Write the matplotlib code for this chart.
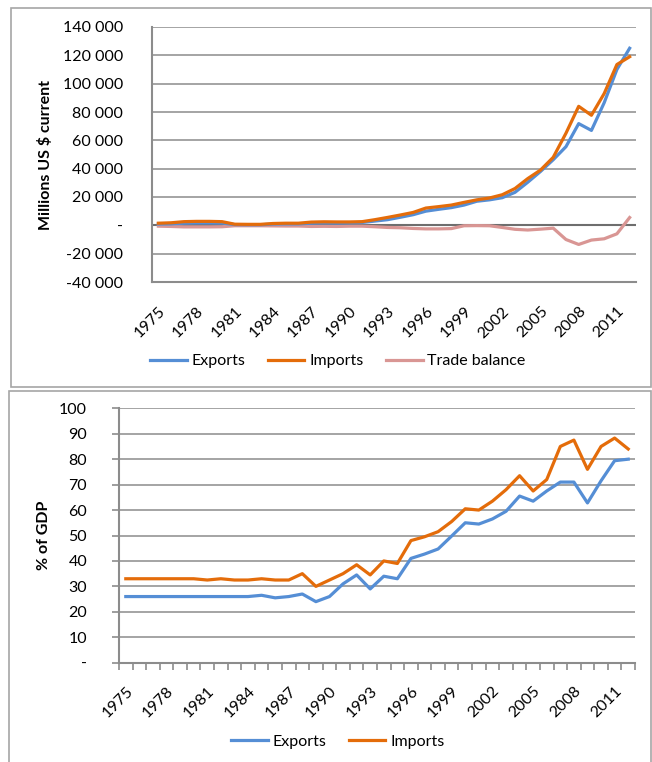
import numpy as np
import matplotlib
matplotlib.use("Agg")
import matplotlib.pyplot as plt
from matplotlib.patches import Rectangle
from matplotlib.ticker import FuncFormatter, FixedLocator

plt.rcParams['font.family'] = ['Lato', 'DejaVu Sans']

years = list(range(1975, 2013))
tick_years = list(range(1975, 2012, 3))

# Millions US $ current
exports_usd = [900, 1000, 1500, 1700, 1700, 1600, 500, 400, 400, 900,
               1000, 1000, 1500, 1800, 1600, 1800, 2000, 3000, 4000, 5700,
               7500, 10000, 11300, 12500, 14300, 17000, 18000, 19500, 23300, 30400,
               38000, 46300, 55500, 71800, 67000, 86500, 110000, 125000]
imports_usd = [1500, 1800, 2600, 2800, 2800, 2600, 800, 700, 700, 1300,
               1500, 1500, 2300, 2500, 2400, 2400, 2600, 4000, 5600, 7300,
               9100, 12200, 13200, 14300, 16200, 18000, 19300, 21600, 26000, 33000,
               39000, 48000, 65000, 84000, 77700, 93000, 113500, 119000]
balance_usd = [-600, -800, -1100, -1100, -1100, -1000, -300, -300, -300, -400,
               -500, -500, -800, -700, -800, -600, -600, -1000, -1500, -1700,
               -2200, -2500, -2500, -2300, -300, -200, -300, -1500, -2800, -3300,
               -2700, -2000, -10000, -13500, -10400, -9500, -6000, 5500]

# % of GDP
exports_pct = [26, 26, 26, 26, 26, 26, 26, 26, 26, 26,
               26.5, 25.5, 26, 27, 24, 26, 31, 34.5, 29, 34,
               33, 41, 42.7, 44.7, 49.8, 55, 54.5, 56.5, 59.5, 65.5,
               63.5, 67.5, 71, 71, 62.8, 71.5, 79.4, 80]
imports_pct = [33, 33, 33, 33, 33, 33, 32.5, 33, 32.5, 32.5,
               33, 32.5, 32.5, 35, 30, 32.5, 35, 38.5, 34.5, 40,
               39, 48, 49.5, 51.5, 55.5, 60.5, 60, 63.5, 68, 73.5,
               67.5, 72, 85, 87.5, 76, 85, 88.3, 84]

BLUE = '#558ED5'
ORANGE = '#E46C0A'
PINK = '#D99694'
GRID = '#8C8C8C'
FS = 11.5
W, H = 652, 762

fig = plt.figure(figsize=(W / 100, H / 100), dpi=100)

# outer chart frames
for (x0, y0, x1, y1) in [(11, 8, 651, 387), (9, 391, 651, 770)]:
    fig.add_artist(Rectangle((x0 / W, 1 - y1 / H), (x1 - x0) / W, (y1 - y0) / H,
                             transform=fig.transFigure, fill=False,
                             edgecolor='#A6A6A6', linewidth=1.2))

x = np.arange(len(years))
pos_ticks = [years.index(y) for y in tick_years]


def thousands(v, _):
    if v == 0:
        return '-'
    return f"{v:,.0f}".replace(',', ' ')


def plain(v, _):
    return '-' if v == 0 else f"{v:.0f}"


def style_axes(ax, xpad):
    for s in ['top', 'right']:
        ax.spines[s].set_visible(False)
    ax.spines['left'].set_color(GRID)
    ax.spines['left'].set_linewidth(1.5)
    ax.spines['bottom'].set_color(GRID)
    ax.spines['bottom'].set_linewidth(1.5)
    ax.grid(axis='y', color=GRID, linewidth=1.1)
    ax.set_axisbelow(True)
    ax.set_xlim(-0.5, len(years) - 0.5)
    ax.set_xticks(pos_ticks)
    ax.set_xticklabels([str(y) for y in tick_years], rotation=45, ha='right',
                       rotation_mode='anchor', va='top', fontsize=FS)
    ax.tick_params(axis='x', length=0, pad=xpad)


# top chart
ax1 = fig.add_axes([152 / W, 1 - 282 / H, 484 / W, 255 / H])
ax1.plot(x, balance_usd, color=PINK, linewidth=2.3, label='Trade balance', zorder=2)
ax1.plot(x, exports_usd, color=BLUE, linewidth=2.3, label='Exports', zorder=3)
ax1.plot(x, imports_usd, color=ORANGE, linewidth=2.3, label='Imports', zorder=4)
ax1.set_ylim(-40000, 140000)
ax1.set_yticks(np.arange(-40000, 140001, 20000))
ax1.yaxis.set_major_formatter(FuncFormatter(thousands))
ax1.axhline(0, color='#6E6E6E', linewidth=1.5, zorder=1)
style_axes(ax1, 16)
ax1.tick_params(axis='y', length=0, pad=21, labelsize=FS)
ax1.set_ylabel('Millions US $ current', fontweight='bold', fontsize=FS)
ax1.yaxis.set_label_coords((53 - 152) / 484, 0.5)
h, l = ax1.get_legend_handles_labels()
order = [1, 2, 0]
fig.legend([h[i] for i in order], [l[i] for i in order], loc='center',
           bbox_to_anchor=(0.518, 1 - 361 / H), ncol=3, frameon=False,
           fontsize=FS, handlelength=2.3, handletextpad=0.3, columnspacing=1.4)

# bottom chart
ax2 = fig.add_axes([119 / W, 1 - 662.7 / H, 516 / W, 254.4 / H])
ax2.plot(x, exports_pct, color=BLUE, linewidth=2.3, label='Exports')
ax2.plot(x, imports_pct, color=ORANGE, linewidth=2.3, label='Imports')
ax2.set_ylim(0, 100)
ax2.set_yticks(np.arange(0, 101, 10))
ax2.yaxis.set_major_formatter(FuncFormatter(plain))
style_axes(ax2, 15)
ax2.xaxis.set_minor_locator(FixedLocator(np.arange(-0.5, len(years), 1.0)))
ax2.tick_params(axis='x', which='minor', length=5, width=1.2, color=GRID, direction='out')
ax2.tick_params(axis='y', length=5, width=1.2, color=GRID, pad=18, labelsize=FS)
ax2.set_ylabel('% of GDP', fontweight='bold', fontsize=FS)
ax2.yaxis.set_label_coords((51 - 119) / 516, 0.5)
fig.legend(*ax2.get_legend_handles_labels(), loc='center',
           bbox_to_anchor=(0.518, 1 - 742 / H), ncol=2, frameon=False,
           fontsize=FS, handlelength=2.3, handletextpad=0.3, columnspacing=1.4)

fig.savefig('out.png', dpi=100)
